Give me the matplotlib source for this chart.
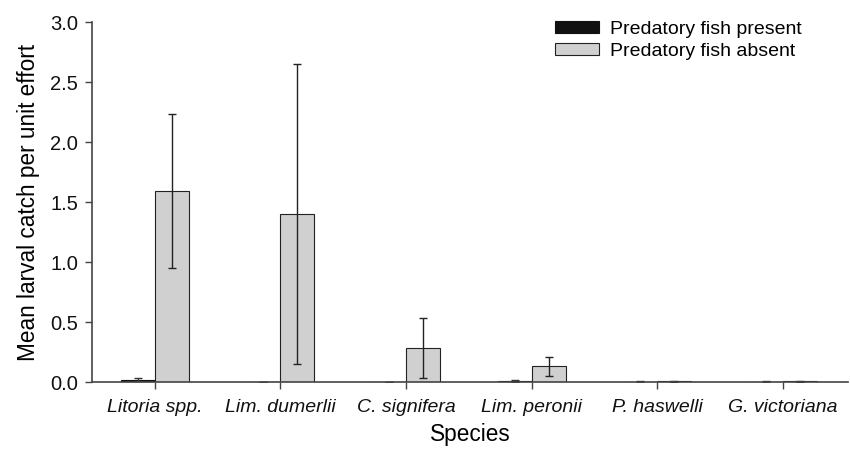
import matplotlib
matplotlib.use("Agg")
import matplotlib.pyplot as plt
import numpy as np

plt.rcParams['font.family'] = ['Liberation Sans', 'DejaVu Sans']

# Data
species = ['Litoria spp.', 'Lim. dumerlii', 'C. signifera', 'Lim. peronii',
           'P. haswelli', 'G. victoriana']
present = [0.02, 0.003, 0.0, 0.01, 0.003, 0.003]
present_err = [0.012, 0.0, 0.0, 0.006, 0.002, 0.002]
absent = [1.59, 1.40, 0.28, 0.13, 0.005, 0.005]
absent_err = [0.64, 1.25, 0.25, 0.08, 0.004, 0.004]

x = np.arange(len(species))
w = 0.27

fig = plt.figure(figsize=(8.5, 4.49), dpi=100)
ax = fig.add_axes([0.108, 0.149, 0.89, 0.802])

ax.bar(x - w / 2, present, w, color='#111111', edgecolor='#111111', lw=0.8,
       yerr=present_err, capsize=3, error_kw=dict(ecolor='#333333', elinewidth=1),
       label='Predatory fish present')
ax.bar(x + w / 2, absent, w, color='#d0d0d0', edgecolor='#222222', lw=0.8,
       yerr=absent_err, capsize=3, error_kw=dict(ecolor='#222222', elinewidth=1),
       label='Predatory fish absent')

ax.set_xlim(-0.5, 5.52)
ax.set_ylim(0, 3.0)
ax.set_yticks(np.arange(0, 3.01, 0.5))
ax.set_yticklabels([f'{v:.1f}' for v in np.arange(0, 3.01, 0.5)], fontsize=14.5)
ax.set_xticks(x)
ax.set_xticklabels(species, fontsize=14, style='italic')
ax.set_xlabel('Species', fontsize=16.3, labelpad=5)
ax.set_ylabel('Mean larval catch per unit effort', fontsize=16.3, labelpad=7)

for s in ['top', 'right']:
    ax.spines[s].set_visible(False)
for s in ['left', 'bottom']:
    ax.spines[s].set_color('#444444')
    ax.spines[s].set_linewidth(1.2)
ax.tick_params(axis='both', colors='#444444', length=5, width=1, labelcolor='#111111')
ax.tick_params(axis='y', pad=5)
ax.tick_params(axis='x', pad=7)

ax.legend(loc='upper left', bbox_to_anchor=(0.653, 0.953),
          bbox_transform=fig.transFigure, frameon=False, borderpad=0,
          borderaxespad=0, fontsize=14, handlelength=2.27, handleheight=0.6,
          handletextpad=0.57, labelspacing=0.25)

fig.savefig('out.png', dpi=100)
